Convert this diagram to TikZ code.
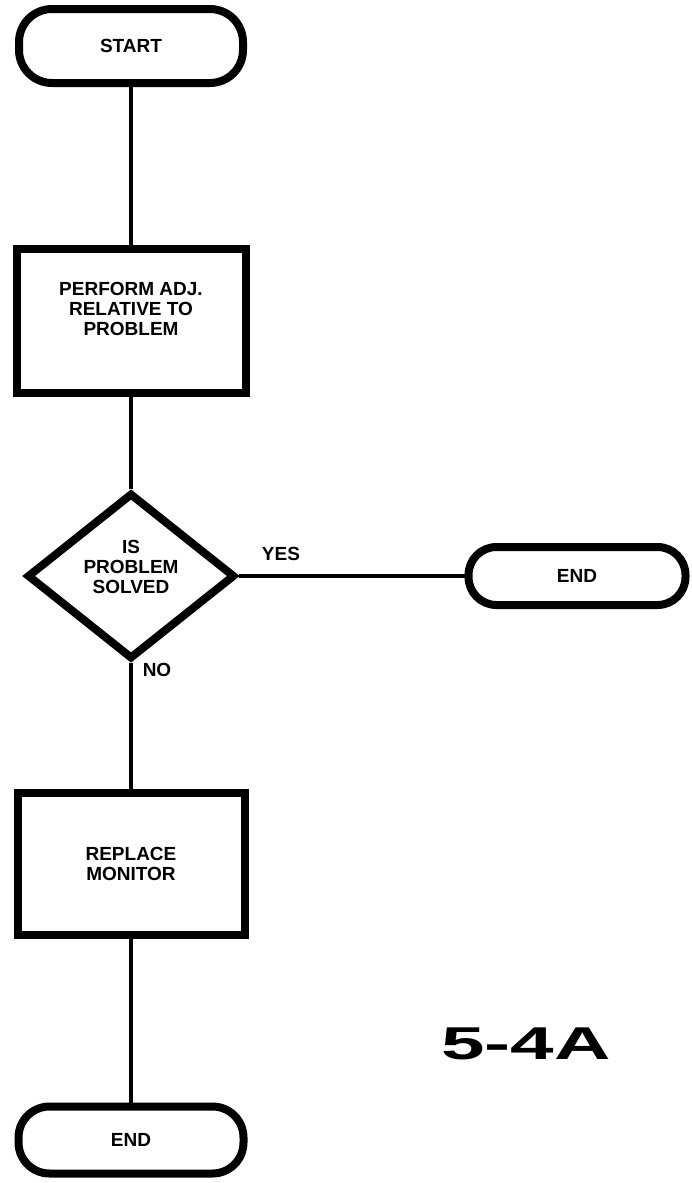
\documentclass[tikz,border=0pt]{standalone}
\usepackage{fontspec}
\usepackage{graphicx}
\setmainfont{Liberation Sans}
\usetikzlibrary{shapes.geometric}

\begin{document}
\begin{tikzpicture}[x=1pt,y=-1pt,line width=3.5pt,
  font=\bfseries\fontsize{19}{20}\selectfont,
  term/.style={draw,line width=8pt,inner sep=0pt},
  proc/.style={draw,line width=8pt,inner sep=0pt,align=center},
  decision/.style={draw,diamond,line width=8pt,inner sep=0pt,align=center}]
\useasboundingbox (0,0) rectangle (692,1183);
% main column
\node[term,rounded corners=33pt,minimum width=224pt,minimum height=74pt] (start) at (131,46) {START};
\node[proc,minimum width=229pt,minimum height=144pt,text depth=24pt] (adjust) at (131,321)
  {PERFORM ADJ.\\RELATIVE TO\\PROBLEM};
\node[decision,minimum width=208pt,minimum height=138pt,text depth=18pt] (solved) at (131,576)
  {IS\\PROBLEM\\SOLVED};
\node[proc,minimum width=227pt,minimum height=142pt] (replace) at (131,864)
  {REPLACE\\MONITOR};
\node[term,rounded corners=31pt,minimum width=225pt,minimum height=67pt] (endno) at (131,1140) {END};
% branch taken when solved
\node[term,rounded corners=28pt,minimum width=217pt,minimum height=58pt] (endyes) at (577,576) {END};
% flow lines
\draw (start.south) -- (adjust.north);
\draw (adjust.south) -- (solved.north);
\draw (solved.east) -- (endyes.west);
\draw (solved.south) -- (replace.north);
\draw (replace.south) -- (endno.north);
% branch labels
\node (yes) at (281,554) {YES};
\node (no) at (157,670) {NO};
% figure number
\node[font=\bfseries\fontsize{46}{46}\selectfont] (figno) at (526,1044) {\scalebox{1.7}[1]{5-4A}};
\end{tikzpicture}
\end{document}
